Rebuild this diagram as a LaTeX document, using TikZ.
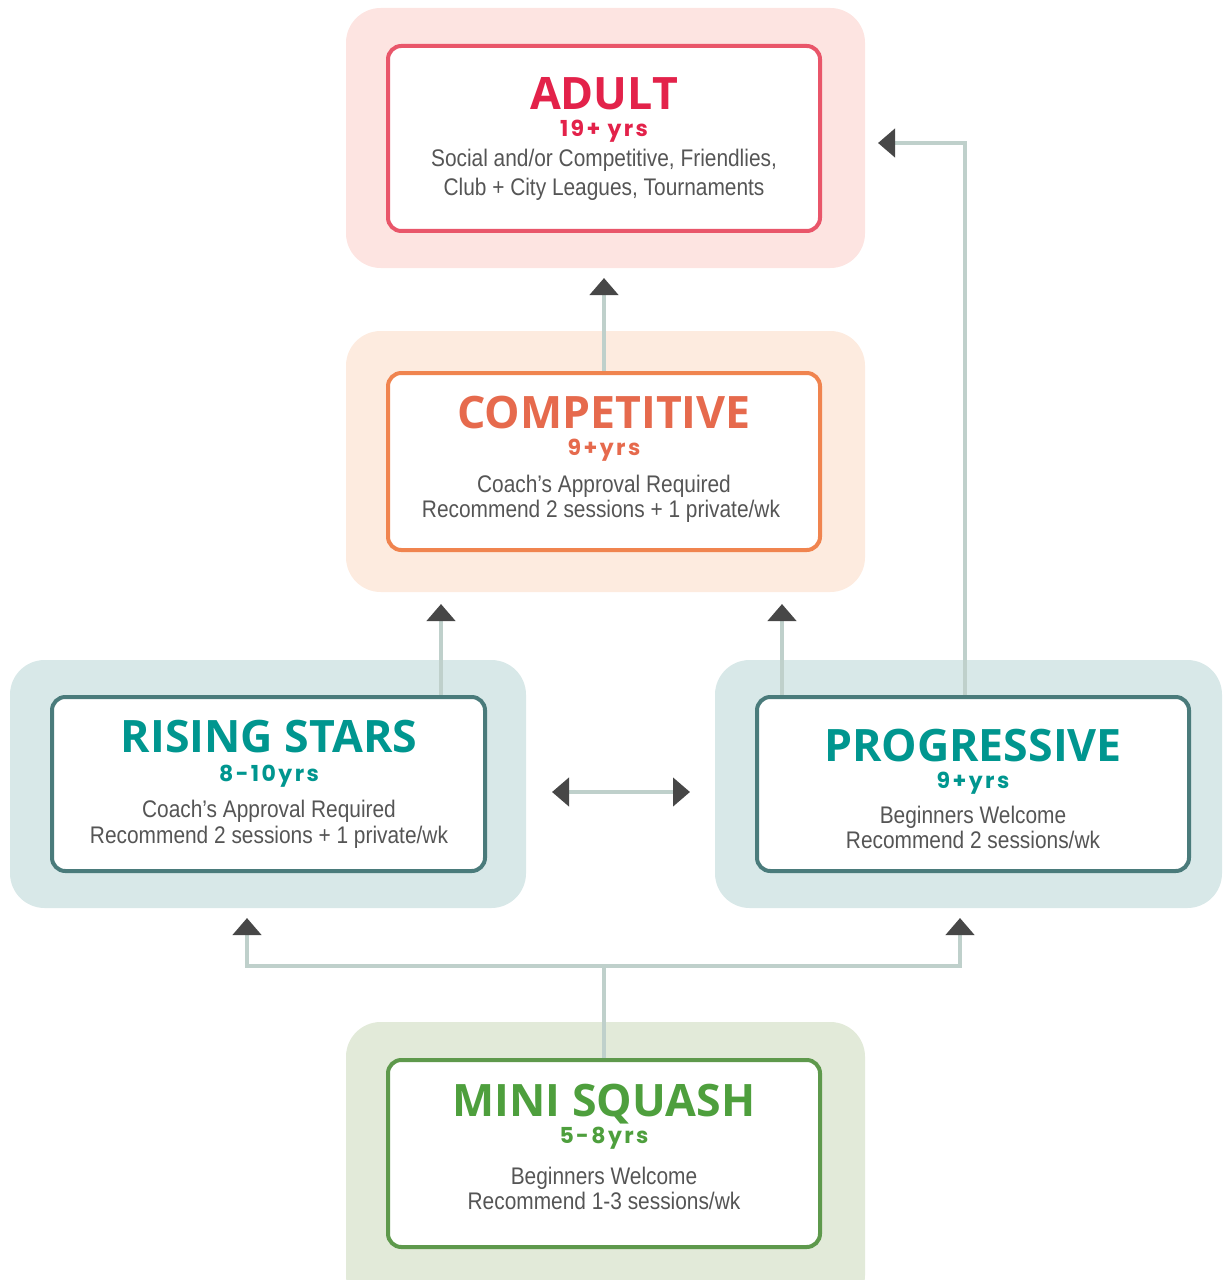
\documentclass[tikz,border=0pt]{standalone}
\usepackage{fontspec}
\usetikzlibrary{arrows.meta,fit,calc}
\newfontfamily\titlefont{Open Sans}
\newfontfamily\agefont{Poppins}[LetterSpace=11]
\newfontfamily\bodyfont{Liberation Sans}[FakeStretch=0.87]
\definecolor{adultbg}{HTML}{FDE4E1}
\definecolor{adultln}{HTML}{E9566A}
\definecolor{adulttx}{HTML}{E3224A}
\definecolor{compbg}{HTML}{FDEBDF}
\definecolor{compln}{HTML}{F0844F}
\definecolor{comptx}{HTML}{E66A4D}
\definecolor{tealbg}{HTML}{D8E8E8}
\definecolor{tealln}{HTML}{4A7B7B}
\definecolor{tealtx}{HTML}{00968F}
\definecolor{minibg}{HTML}{E2EAD9}
\definecolor{miniln}{HTML}{5E994C}
\definecolor{minitx}{HTML}{4E9F3D}
\definecolor{bodyc}{HTML}{555555}
\definecolor{connc}{HTML}{BFD0CB}
\definecolor{arrowc}{HTML}{474747}
\tikzset{
  outerbox/.style={fill=#1, draw=none, rounded corners=26pt, inner sep=0pt},
  innerbox/.style={draw=#1, line width=3pt, fill=white, rounded corners=10pt, inner sep=0pt},
  ttl/.style={anchor=base, inner sep=0pt, font=\titlefont\bfseries\fontsize{33.5}{40}\selectfont},
  agel/.style={anchor=base, inner sep=0pt, font=\agefont\bfseries\fontsize{16.5}{20}\selectfont},
  bodyl/.style={anchor=base, inner sep=0pt, text=bodyc, font=\bodyfont\fontsize{18}{21}\selectfont},
  conn/.style={draw=connc, line width=3.2pt},
  tipend/.style={-{Triangle[width=21pt,length=12.75pt,color=arrowc]}},
  tipboth/.style={{Triangle[width=21pt,length=12.75pt,color=arrowc]}-{Triangle[width=21pt,length=12.75pt,color=arrowc]}}
}
\begin{document}
\begin{tikzpicture}[x=0.75pt,y=-0.75pt]
\useasboundingbox (0,0) rectangle (1222,1280);
\clip (0,0) rectangle (1222,1280);
% outer backgrounds
\node[outerbox=adultbg, fit={(346,8) (865,268)}] (adultO) {};
\node[outerbox=compbg, fit={(346,331) (865,592)}] (compO) {};
\node[outerbox=tealbg, fit={(10,660) (526,908)}] (risingO) {};
\node[outerbox=tealbg, fit={(715,660) (1222,908)}] (progO) {};
\node[outerbox=minibg, fit={(346,1022) (865,1310)}] (miniO) {};
% connector points
\coordinate (tipCA) at (604,278);
\coordinate (tipRC) at (441,604);
\coordinate (tipPC) at (782,604);
\coordinate (bendPA) at (965,143);
\coordinate (tipPA) at (878,143);
\coordinate (tipL) at (552,792);
\coordinate (tipR) at (690,792);
\coordinate (junc) at (604,966);
\coordinate (bendL) at (247,966);
\coordinate (bendR) at (960,966);
\coordinate (tipMR) at (247,918);
\coordinate (tipMP) at (960,918);
% inner box corners
\path (388,46) coordinate (a1) (820,231) coordinate (a2);
\path (388,373) coordinate (c1) (820,550) coordinate (c2);
\path (52,697) coordinate (r1) (485,871) coordinate (r2);
\path (757,697) coordinate (p1) (1189,871) coordinate (p2);
\path (388,1060) coordinate (m1) (820,1247) coordinate (m2);
\node[innerbox=adultln, fit=(a1)(a2)] (adultI) {};
% connectors
\draw[conn,tipend] (604,372) -- (tipCA);
\draw[conn,tipend] (tipRC |- r1) -- (tipRC);
\draw[conn,tipend] (tipPC |- p1) -- (tipPC);
\draw[conn,tipend] (bendPA |- p1) -- (bendPA) -- (tipPA);
\draw[conn,tipboth] (tipL) -- (tipR);
\draw[conn] (604,1060) -- (junc);
\draw[conn,tipend] (junc) -- (bendL) -- (tipMR);
\draw[conn,tipend] (junc) -- (bendR) -- (tipMP);
\node[innerbox=compln, fit=(c1)(c2)] (compI) {};
\node[innerbox=tealln, fit=(r1)(r2)] (risingI) {};
\node[innerbox=tealln, fit=(p1)(p2)] (progI) {};
\node[innerbox=miniln, fit=(m1)(m2)] (miniI) {};
% texts: adult
\node[ttl, text=adulttx] (adultT) at (604,110) {ADULT};
\node[agel, text=adulttx] (adultA) at (604,137) {19+ yrs};
\node[bodyl] (adultB1) at (604,167) {Social and/or Competitive, Friendlies,};
\node[bodyl] (adultB2) at (604,196) {Club + City Leagues, Tournaments};
% competitive
\node[ttl, text=comptx] (compT) at (604,428) {COMPETITIVE};
\node[agel, text=comptx] (compA) at (604,455) {9+yrs};
\node[bodyl] (compB1) at (604,492) {Coach’s Approval Required};
\node[bodyl] (compB2) at (601,517) {Recommend 2 sessions + 1 private/wk};
% rising stars
\node[ttl, text=tealtx] (risT) at (269,752) {RISING STARS};
\node[agel, text=tealtx] (risA) at (269,781) {8-10yrs};
\node[bodyl] (risB1) at (269,817) {Coach’s Approval Required};
\node[bodyl] (risB2) at (269,843) {Recommend 2 sessions + 1 private/wk};
% progressive
\node[ttl, text=tealtx] (progT) at (973,761) {PROGRESSIVE};
\node[agel, text=tealtx] (progA) at (973,788) {9+yrs};
\node[bodyl] (progB1) at (973,823) {Beginners Welcome};
\node[bodyl] (progB2) at (973,848) {Recommend 2 sessions/wk};
% mini squash
\node[ttl, text=minitx] (miniT) at (604,1116) {MINI SQUASH};
\node[agel, text=minitx] (miniA) at (604,1143) {5-8yrs};
\node[bodyl] (miniB1) at (604,1184) {Beginners Welcome};
\node[bodyl] (miniB2) at (604,1209) {Recommend 1-3 sessions/wk};
\end{tikzpicture}
\end{document}
